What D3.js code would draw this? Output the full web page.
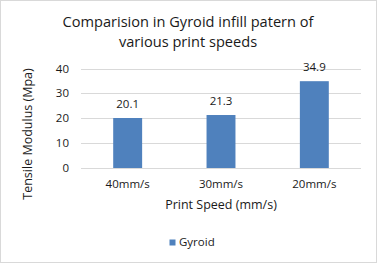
<!DOCTYPE html>
<html>
<head>
<meta charset="utf-8">
<script src="https://cdn.jsdelivr.net/npm/d3@7"></script>
<style>
	body { margin: 0; background: #fff; }
	text { font-family: "Open Sans", sans-serif; fill: #1a1a1a; }
</style>
</head>
<body>
<svg id="chart"></svg>
<script>
let speeds = ['40mm/s', '30mm/s', '20mm/s'];
let gyroid = [20.1, 21.3, 34.9];
let yTicks = [0, 10, 20, 30, 40];
let seriesName = 'Gyroid';

function makeChart() {
	let w = 377;
	let h = 263;

	let chart = d3.select('#chart')
		.attr('width', w)
		.attr('height', h);

	// outer border
	chart.append('rect')
		.attr('x', 0.5).attr('y', 0.5)
		.attr('width', w - 1).attr('height', h - 1)
		.style('fill', '#fff')
		.style('stroke', '#d9d9d9');

	let x = d3.scaleBand()
		.domain(speeds)
		.range([81, 361])
		.paddingInner(0.69)
		.paddingOuter(0.345);

	let y = d3.scaleLinear()
		.domain([0, 40])
		.range([168, 68.5]);

	// gridlines
	chart.selectAll('.grid')
		.data(yTicks)
		.enter()
		.append('line')
		.attr('x1', 81).attr('x2', 361)
		.attr('y1', d => Math.round(y(d)) + 0.5)
		.attr('y2', d => Math.round(y(d)) + 0.5)
		.style('stroke', '#d9d9d9');

	// y tick labels
	chart.selectAll('.ytick')
		.data(yTicks)
		.enter()
		.append('text')
		.attr('x', 69)
		.attr('y', d => y(d) + 4)
		.style('text-anchor', 'end')
		.style('font-size', '11.5px')
		.text(d => d);

	// bars
	chart.selectAll('.bar')
		.data(gyroid)
		.enter()
		.append('rect')
		.attr('x', (d, i) => x(speeds[i]))
		.attr('y', d => y(d))
		.attr('width', x.bandwidth())
		.attr('height', d => y(0) - y(d))
		.style('fill', '#4f81bd');

	// data labels
	chart.selectAll('.label')
		.data(gyroid)
		.enter()
		.append('text')
		.attr('x', (d, i) => x(speeds[i]) + x.bandwidth() / 2)
		.attr('y', d => y(d) - 10)
		.style('text-anchor', 'middle')
		.style('font-size', '11.5px')
		.text(d => d.toFixed(1));

	// x tick labels
	chart.selectAll('.xtick')
		.data(speeds)
		.enter()
		.append('text')
		.attr('x', d => x(d) + x.bandwidth() / 2)
		.attr('y', 188)
		.style('text-anchor', 'middle')
		.style('font-size', '11.5px')
		.text(d => d);

	// axis titles
	chart.append('text')
		.attr('x', 221)
		.attr('y', 209)
		.style('text-anchor', 'middle')
		.style('font-size', '12.5px')
		.text('Print Speed (mm/s)');

	chart.append('text')
		.attr('transform', 'translate(32, 134) rotate(-90)')
		.style('text-anchor', 'middle')
		.style('font-size', '12.5px')
		.text('Tensile Modulus (Mpa)');

	// title
	chart.append('text')
		.attr('x', 188)
		.attr('y', 27)
		.style('text-anchor', 'middle')
		.style('font-size', '14.6px')
		.text('Comparision in Gyroid infill patern of');

	chart.append('text')
		.attr('x', 188)
		.attr('y', 47)
		.style('text-anchor', 'middle')
		.style('font-size', '14.6px')
		.text('various print speeds');

	// legend
	chart.append('rect')
		.attr('x', 169.5).attr('y', 239.5)
		.attr('width', 6).attr('height', 6)
		.style('fill', '#4f81bd');

	chart.append('text')
		.attr('x', 179)
		.attr('y', 246)
		.style('font-size', '11.5px')
		.text(seriesName);
}

window.onload = function () {
	makeChart();
}
</script>
</body>
</html>
